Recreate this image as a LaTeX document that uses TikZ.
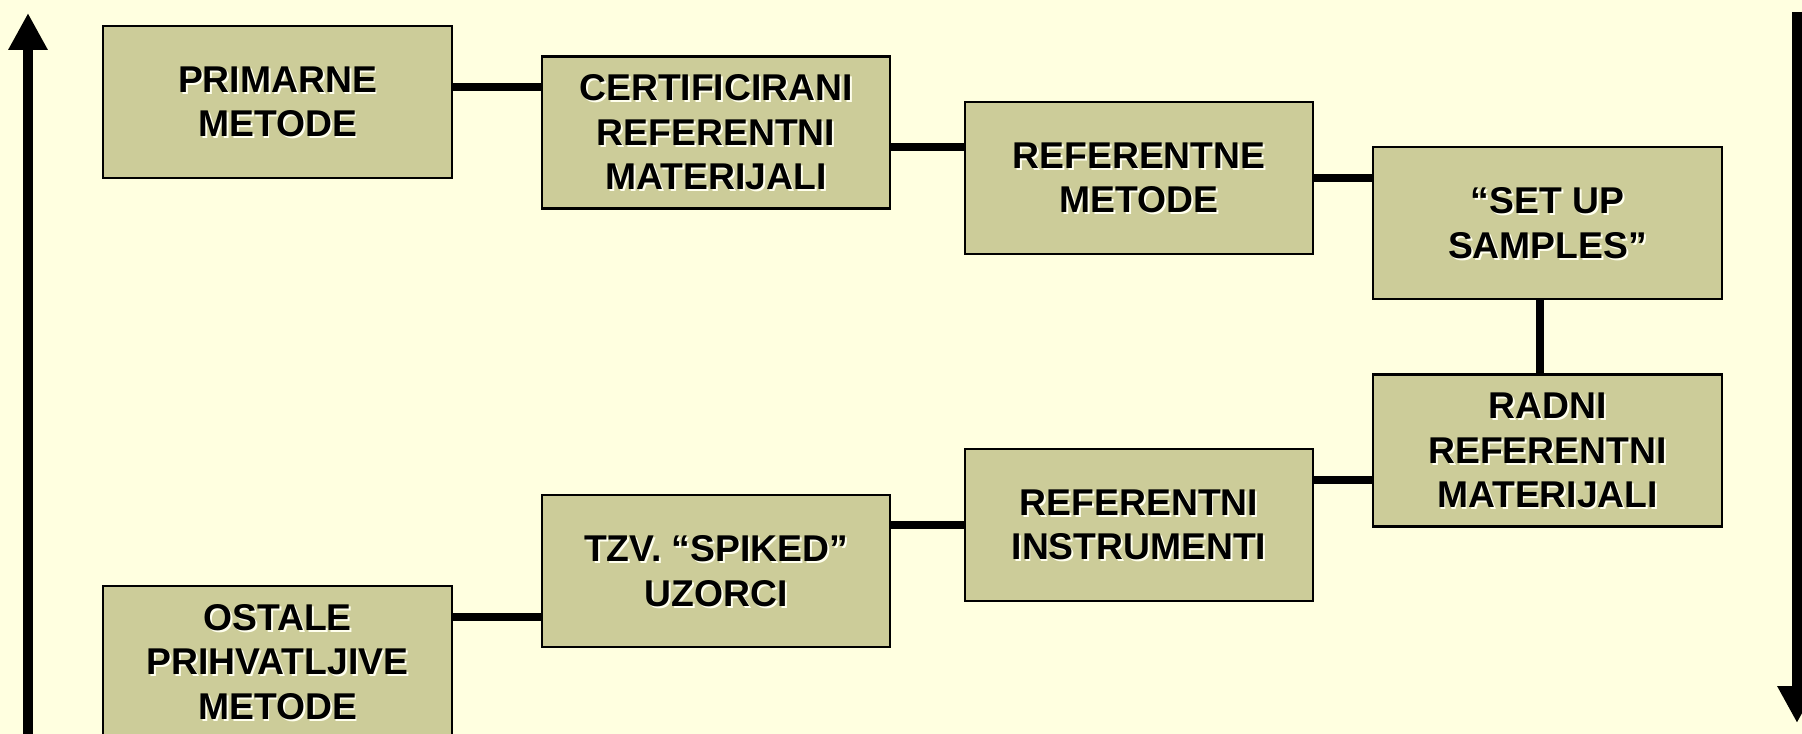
\documentclass[tikz,border=0pt]{standalone}
\usepackage{fontspec}
\setmainfont{Liberation Sans}
\usepackage{xcolor}
\usetikzlibrary{arrows.meta,calc}
\definecolor{pozadina}{RGB}{255,255,224}
\definecolor{maslina}{RGB}{204,204,153}
\definecolor{sjena}{RGB}{255,255,238}

\tikzset{
  natpis/.style={align=center, font=\bfseries\fontsize{10.6}{12.7}\selectfont, inner sep=0pt},
  kutija/.style={natpis, draw=black, line width=0.6pt, fill=maslina,
    minimum width=3.48cm, minimum height=1.52cm},
  veza/.style={line width=2.3pt},
  strelica/.style={line width=3.1pt, -{Triangle[length=10.5pt,width=10.5pt]}}
}

% box whose text carries a light shadow
\newcommand{\kutija}[3]{%
  \node[kutija, path picture={\node[natpis, draw=none, fill=none, text=sjena]
    at ([shift={(0.55pt,-0.55pt)}]path picture bounding box.center) {#3};}]
    (#1) at (#2) {#3};}

\begin{document}
\begin{tikzpicture}[x=0.01cm, y=-0.01cm]
  \fill[pozadina] (0,0) rectangle (1802,734);
  \useasboundingbox (0,0) rectangle (1802,734);

  % Upper row
  \kutija{prim}{277.5,102}{PRIMARNE\\METODE}
  \kutija{cert}{716,132.5}{CERTIFICIRANI\\REFERENTNI\\MATERIJALI}
  \kutija{refmet}{1139,178}{REFERENTNE\\METODE}
  \kutija{setup}{1547.5,223}{“SET UP\\SAMPLES”}

  % Lower row
  \kutija{radni}{1547.5,450.5}{RADNI\\REFERENTNI\\MATERIJALI}
  \kutija{instr}{1139,525}{REFERENTNI\\INSTRUMENTI}
  \kutija{spiked}{716,571}{TZV. “SPIKED”\\UZORCI}
  \kutija{ostale}{277.5,662}{OSTALE\\PRIHVATLJIVE\\METODE}

  % Links
  \draw[veza] (prim.east |- 0,87) -- (cert.west |- 0,87);
  \draw[veza] (cert.east |- 0,147) -- (refmet.west |- 0,147);
  \draw[veza] (refmet.east) -- (refmet.east -| setup.west);
  \draw[veza] (setup.south -| 1540,0) -- (radni.north -| 1540,0);
  \draw[veza] (radni.west |- 0,480) -- (instr.east |- 0,480);
  \draw[veza] (instr.west) -- (instr.west -| spiked.east);
  \draw[veza] (spiked.west |- 0,617) -- (ostale.east |- 0,617);

  % Side arrows
  \coordinate (lijevodno) at (28,745);
  \coordinate (lijevovrh) at (28,13);
  \coordinate (desnovrh) at (1797,12);
  \coordinate (desnodno) at (1797,723);
  \draw[strelica] (lijevodno) -- (lijevovrh);
  \draw[strelica] (desnovrh) -- (desnodno);
\end{tikzpicture}
\end{document}
